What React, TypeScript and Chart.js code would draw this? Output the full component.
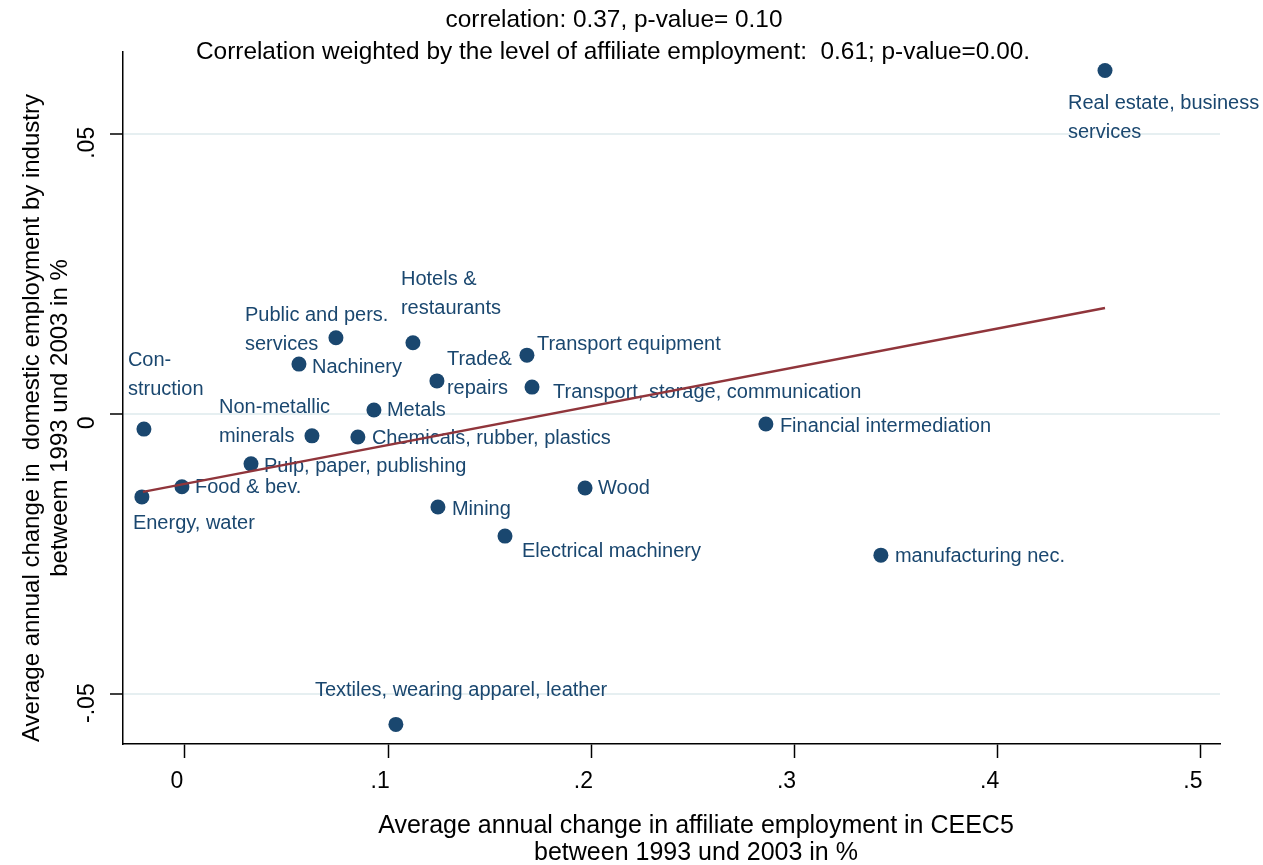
import React, { useEffect, useRef } from "react";
import { Chart, registerables } from "chart.js";

Chart.register(...registerables);

// ---------------- data ----------------
const industries: string[][] = [
  ["Real estate, business", "services"],
  ["Public and pers.", "services"],
  ["Hotels &", "restaurants"],
  ["Transport equipment"],
  ["Nachinery"],
  ["Trade&", "repairs"],
  ["Transport, storage, communication"],
  ["Metals"],
  ["Con-", "struction"],
  ["Non-metallic", "minerals"],
  ["Chemicals, rubber, plastics"],
  ["Financial intermediation"],
  ["Pulp, paper, publishing"],
  ["Food & bev."],
  ["Energy, water"],
  ["Wood"],
  ["Mining"],
  ["Electrical machinery"],
  ["manufacturing nec."],
  ["Textiles, wearing apparel, leather"],
];

const affiliateChange: number[] = [
  0.4528, 0.0743, 0.1122, 0.1683, 0.0561, 0.124, 0.1708, 0.093, -0.0202, 0.0625,
  0.0851, 0.2859, 0.0325, -0.0015, -0.0212, 0.1969, 0.1245, 0.1575, 0.3425, 0.1038,
];

const domesticChange: number[] = [
  0.0613, 0.0136, 0.0127, 0.0105, 0.0089, 0.0059, 0.0048, 0.0007, -0.0027, -0.0039,
  -0.0041, -0.0018, -0.0089, -0.013, -0.0148, -0.0132, -0.0166, -0.0218, -0.0252, -0.0554,
];

const fitX: number[] = [-0.0207, 0.4528];
const fitY: number[] = [-0.0139, 0.0189];

const xTicks: number[] = [0, 0.1, 0.2, 0.3, 0.4, 0.5];
const yTicks: number[] = [-0.05, 0, 0.05];

const titleLines: string[] = [
  "correlation: 0.37, p-value= 0.10",
  "Correlation weighted by the level of affiliate employment:  0.61; p-value=0.00.",
];
const xTitleLines: string[] = [
  "Average annual change in affiliate employment in CEEC5",
  "between 1993 und 2003 in %",
];
const yTitleLines: string[] = [
  "Average annual change in  domestic employment by industry",
  "betweem 1993 und 2003 in %",
];

// ---------------- styles ----------------
// label offset from marker: [dx to text left edge, dy to first line middle]
const labelOffsets: number[][] = [
  [-37, 33], [-91, -22], [-12, -63], [10, -11], [13, 3], [10, -21], [21, 5], [13, 0],
  [-16, -69], [-93, -28], [14, 2], [14, 2], [13, 3], [13, 1], [-9, 27], [13, 1],
  [14, 3], [17, 15], [14, 1], [-81, -34],
];

const FONT = '"Liberation Sans", Arial, Helvetica, sans-serif';
const NAVY = "#1a476f";
const MAROON = "#90353b";
const GRID = "#e6eff1";

const fmtTick = (v: number): string => {
  if (v === 0) return "0";
  const s = String(Number(v.toFixed(3)));
  return s.replace(/^(-?)0\./, "$1.");
};

export default function App() {
  const canvasRef = useRef<HTMLCanvasElement | null>(null);

  useEffect(() => {
    const canvas = canvasRef.current;
    if (!canvas) return;

    const textPlugin = {
      id: "textPlugin",
      beforeDraw(chart: any) {
        const ctx = chart.ctx;
        ctx.save();
        ctx.fillStyle = "#ffffff";
        ctx.fillRect(0, 0, chart.width, chart.height);
        ctx.restore();
      },
      beforeDatasetsDraw(chart: any) {
        const ctx = chart.ctx;
        const xs = chart.scales.x;
        const ys = chart.scales.y;
        ctx.save();
        ctx.fillStyle = NAVY;
        ctx.font = `20px ${FONT}`;
        ctx.textAlign = "left";
        ctx.textBaseline = "middle";
        industries.forEach((lines, i) => {
          const px = xs.getPixelForValue(affiliateChange[i]);
          const py = ys.getPixelForValue(domesticChange[i]);
          const [dx, dy] = labelOffsets[i];
          lines.forEach((ln, j) => {
            ctx.fillText(ln, px + dx, py + dy + j * 29);
          });
        });
        ctx.restore();
      },
      afterDraw(chart: any) {
        const ctx = chart.ctx;
        const xs = chart.scales.x;
        const ys = chart.scales.y;
        const area = chart.chartArea;
        ctx.save();
        ctx.fillStyle = "#000000";
        ctx.textBaseline = "middle";
        ctx.textAlign = "center";
        // title
        ctx.font = `24.4px ${FONT}`;
        ctx.fillText(titleLines[0], 614, 20);
        ctx.fillText(titleLines[1], 613, 52);
        // x tick labels
        ctx.font = `23px ${FONT}`;
        xTicks.forEach((v) => {
          ctx.fillText(fmtTick(v), xs.getPixelForValue(v) - 8, 782);
        });
        // x title
        ctx.font = `25px ${FONT}`;
        ctx.fillText(xTitleLines[0], 696, 826);
        ctx.fillText(xTitleLines[1], 696, 853);
        // y tick labels (rotated)
        ctx.font = `23px ${FONT}`;
        yTicks.forEach((v) => {
          const py = ys.getPixelForValue(v) + 9;
          ctx.save();
          ctx.translate(88, py);
          ctx.rotate(-Math.PI / 2);
          ctx.fillText(fmtTick(v), 0, 0);
          ctx.restore();
        });
        // y title
        ctx.font = `24px ${FONT}`;
        const cy = (area.top + area.bottom) / 2 + 20;
        [32, 60].forEach((x, j) => {
          ctx.save();
          ctx.translate(x, cy);
          ctx.rotate(-Math.PI / 2);
          ctx.fillText(yTitleLines[j], 0, 0);
          ctx.restore();
        });
        ctx.restore();
      },
    };

    const chart = new Chart(canvas, {
      type: "scatter",
      data: {
        datasets: [
          {
            type: "line",
            label: "fit",
            data: fitX.map((x, i) => ({ x, y: fitY[i] })),
            borderColor: MAROON,
            borderWidth: 2.5,
            pointRadius: 0,
            fill: false,
            order: 0,
          } as any,
          {
            type: "scatter",
            label: "industries",
            data: affiliateChange.map((x, i) => ({ x, y: domesticChange[i] })),
            backgroundColor: NAVY,
            borderColor: NAVY,
            borderWidth: 0,
            pointRadius: 7.5,
            order: 1,
          },
        ],
      },
      options: {
        responsive: false,
        animation: false,
        devicePixelRatio: 1,
        layout: { padding: { top: 52, right: 43, left: 0, bottom: 0 } },
        plugins: {
          legend: { display: false },
          tooltip: { enabled: false },
          title: { display: false },
        },
        scales: {
          x: {
            type: "linear",
            min: -0.0305,
            max: 0.5094,
            afterBuildTicks: (scale: any) => {
              scale.ticks = xTicks.map((v) => ({ value: v }));
            },
            afterFit: (scale: any) => {
              scale.height = 121;
            },
            ticks: { display: false },
            grid: {
              drawOnChartArea: false,
              drawTicks: true,
              tickLength: 14,
              tickColor: "#000000",
              tickWidth: 1.5,
            },
            border: { display: true, color: "#000000", width: 1.5 },
          },
          y: {
            type: "linear",
            min: -0.0589,
            max: 0.0646,
            afterBuildTicks: (scale: any) => {
              scale.ticks = yTicks.map((v) => ({ value: v }));
            },
            afterFit: (scale: any) => {
              scale.width = 123;
            },
            ticks: { display: false },
            grid: {
              color: GRID,
              lineWidth: 2,
              drawTicks: true,
              tickLength: 13,
              tickColor: "#000000",
              tickWidth: 1.5,
            },
            border: { display: true, color: "#000000", width: 1.5 },
          },
        },
      },
      plugins: [textPlugin],
    });

    return () => {
      chart.destroy();
    };
  }, []);

  return (
    <div style={{ position: "fixed", left: 0, top: 0, width: 1263, height: 865, background: "#fff" }}>
      <canvas ref={canvasRef} width={1263} height={865} style={{ display: "block" }} />
    </div>
  );
}
